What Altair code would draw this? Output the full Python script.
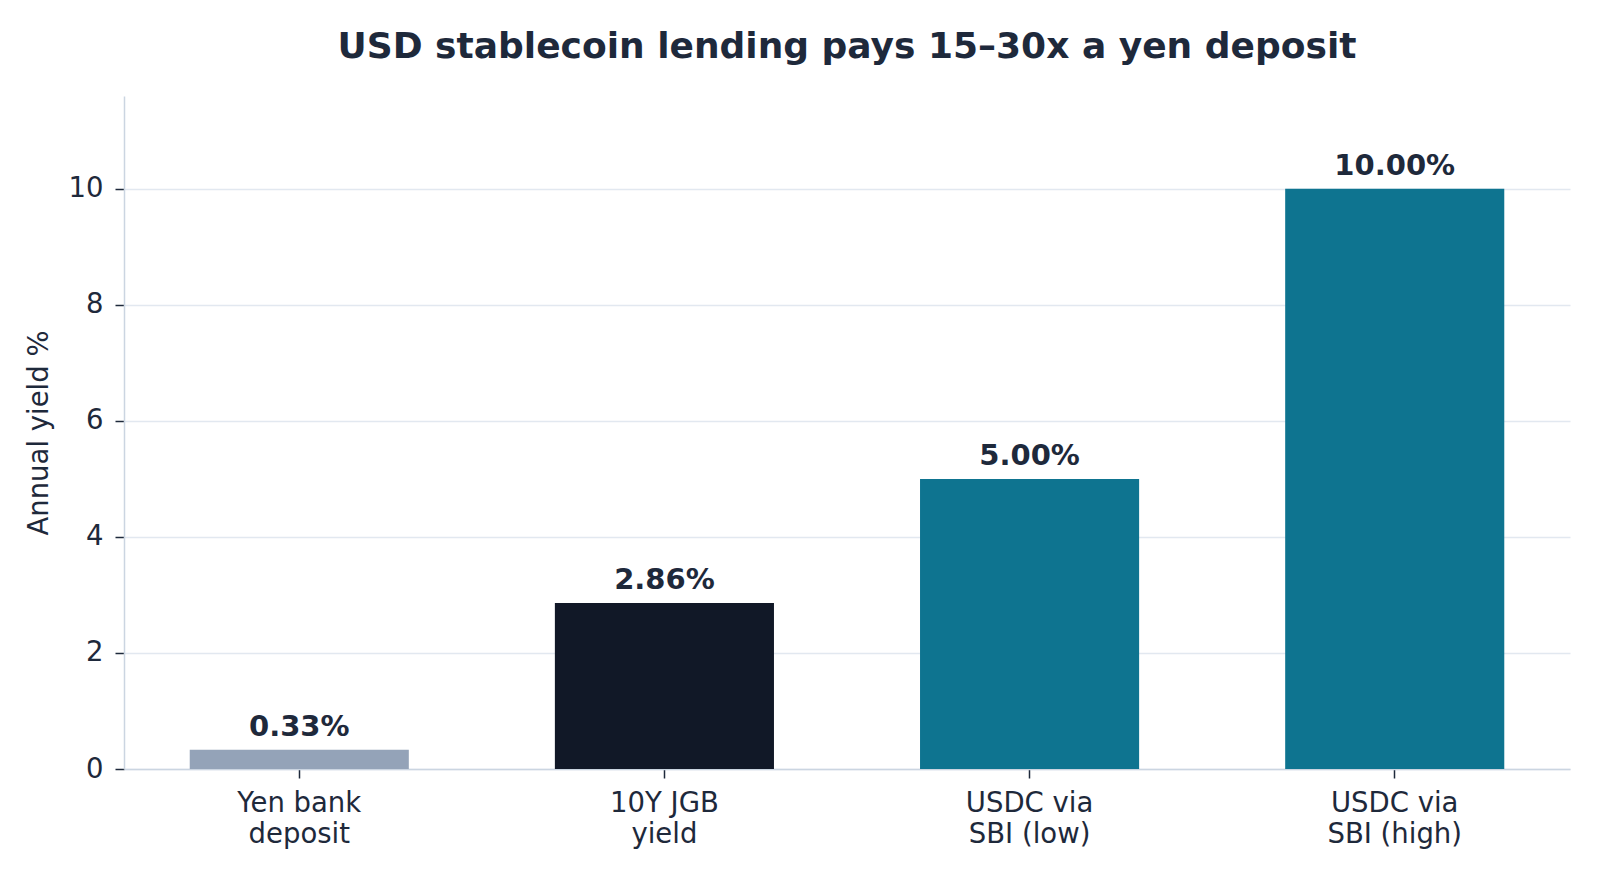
import altair as alt
import pandas as pd

categories = ["Yen bank|deposit", "10Y JGB|yield", "USDC via|SBI (low)", "USDC via|SBI (high)"]
values = [0.33, 2.86, 5.00, 10.00]
bar_colors = ["#94a3b8", "#111827", "#0e7490", "#0e7490"]
value_labels = ["0.33%", "2.86%", "5.00%", "10.00%"]
y_ticks = [0, 2, 4, 6, 8, 10]

df = pd.DataFrame({
    "category": categories,
    "value": values,
    "color": bar_colors,
    "label": value_labels,
})

TEXT = "#1e293b"
FONT = "DejaVu Sans"
FS = 27.5

x = alt.X(
    "category:N",
    sort=categories,
    scale=alt.Scale(paddingInner=0.4, paddingOuter=0.18),
    axis=alt.Axis(
        title=None,
        labelAngle=0,
        labelExpr="split(datum.label, '|')",
        labelFontSize=FS,
        labelLineHeight=31,
        labelPadding=11,
        labelColor=TEXT,
        labelFont=FONT,
        tickSize=9,
        tickWidth=1.5,
        tickColor=TEXT,
        domainColor="#cbd5e1",
        domainWidth=1.5,
        grid=False,
    ),
)
y = alt.Y(
    "value:Q",
    scale=alt.Scale(domain=[0, 11.6], nice=False),
    axis=alt.Axis(
        title="Annual yield %",
        values=y_ticks,
        labelFontSize=FS,
        labelPadding=12,
        labelColor=TEXT,
        labelFont=FONT,
        tickSize=9,
        tickWidth=1.5,
        tickColor=TEXT,
        domainColor="#cbd5e1",
        domainWidth=1.5,
        gridColor="#e2e8f0",
        gridWidth=1.5,
        titleFont=FONT,
        titleFontSize=FS,
        titleFontWeight="normal",
        titleColor=TEXT,
        titlePadding=15,
    ),
)

bars = alt.Chart(df).mark_bar().encode(
    x=x, y=y, color=alt.Color("color:N", scale=None)
)
text = alt.Chart(df).mark_text(
    font=FONT, fontSize=29, fontWeight="bold", baseline="alphabetic",
    align="center", dy=-14, color=TEXT,
).encode(x=x, y=y, text="label:N")

chart = (bars + text).properties(
    width=1446,
    height=673,
    background="white",
    title=alt.TitleParams(
        "USD stablecoin lending pays 15–30x a yen deposit",
        font=FONT, fontSize=36, fontWeight="bold", color=TEXT,
        anchor="middle", offset=30,
    ),
    padding={"left": 116, "top": 88, "right": 22, "bottom": 103},
    autosize="none",
).configure_view(stroke=None)

chart.save("out.html", embed_options={"renderer": "svg", "actions": False})
